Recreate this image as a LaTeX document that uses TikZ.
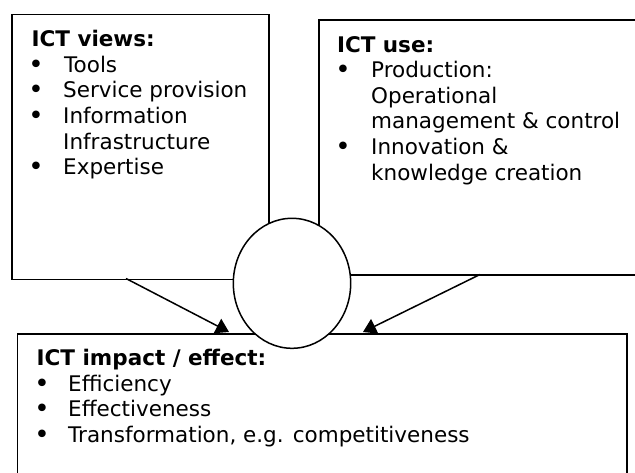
\documentclass[tikz,border=0pt]{standalone}
\usepackage{fontspec}
\setmainfont{DejaVu Sans}
\usetikzlibrary{shapes.geometric,arrows.meta}
\begin{document}
\begin{tikzpicture}[x=1pt,y=-1pt,
  box/.style={draw,line width=1.5pt,fill=white,inner sep=0pt,anchor=north west},
  txt/.style={anchor=base west,inner sep=0pt,font=\fontsize{21.5}{25.5}\selectfont},
  hd/.style={anchor=base west,inner sep=0pt,font=\fontsize{21.5}{25.5}\selectfont\bfseries},
  bul/.style={anchor=base,inner sep=0pt,yshift=-1pt,font=\fontsize{26}{26}\selectfont},
  arr/.style={line width=1.5pt,-{Triangle[length=13pt,width=16pt]}}]
\path[use as bounding box,clip] (0,0) rectangle (635,473);
% boxes
\node[box,minimum width=257pt,minimum height=265pt] (lbox) at (11,14) {};
\node[box,minimum width=345pt,minimum height=255pt] (rbox) at (318.3,19.3) {};
% arrows
\coordinate (la0) at (126,278.5);
\coordinate (la1) at (229,332);
\coordinate (ra0) at (480,274.5);
\coordinate (ra1) at (363,332);
\draw[arr] (la0) -- (la1);
\draw[arr] (ra0) -- (ra1);
\node[box,minimum width=609.3pt,minimum height=200pt] (bbox) at (16.7,333.3) {};
% circle
\node[draw,ellipse,line width=1.5pt,fill=white,inner sep=0pt,minimum width=117.4pt,minimum height=130pt] (circ) at (292,283.3) {};
% left box text
\node[hd] (lh) at (31.4,46.8) {ICT views:};
\node[bul] (lb1) at (36,72.4) {•};
\node[txt] (lt1) at (64,72.4) {Tools};
\node[bul] (lb2) at (36,98) {•};
\node[txt] (lt2) at (63,98) {Service provision};
\node[bul] (lb3) at (36,123.6) {•};
\node[txt] (lt3) at (63,123.6) {Information};
\node[txt] (lt4) at (63,149.2) {Infrastructure};
\node[bul] (lb5) at (36,174.8) {•};
\node[txt] (lt5) at (63,174.8) {Expertise};
% right box text
\node[hd] (rh) at (336.8,52.2) {ICT use:};
\node[bul] (rb1) at (343,77.8) {•};
\node[txt] (rt1) at (371,77.8) {Production:};
\node[txt] (rt2) at (371,103.4) {Operational};
\node[txt] (rt3) at (371,129) {management \& control};
\node[bul] (rb4) at (343,154.6) {•};
\node[txt] (rt4) at (371,154.6) {Innovation \&};
\node[txt] (rt5) at (371,180.2) {knowledge creation};
% bottom box text
\node[hd] (bh) at (36.5,365.7) {ICT impact / effect:};
\node[bul] (bb1) at (42,391.3) {•};
\node[txt] (bt1) at (68,391.3) {Efficiency};
\node[bul] (bb2) at (42,416.9) {•};
\node[txt] (bt2) at (68,416.9) {Effectiveness};
\node[bul] (bb3) at (42,442.5) {•};
\node[txt] (bt3) at (68,442.5) {Transformation, e.g. competitiveness};
\end{tikzpicture}
\end{document}
